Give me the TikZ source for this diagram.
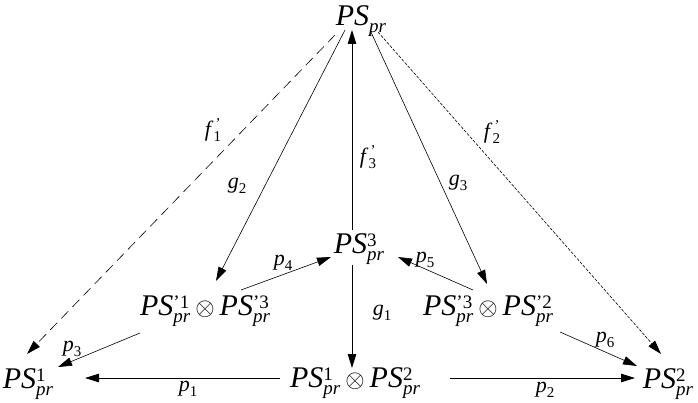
\documentclass[tikz,border=0pt]{standalone}
\usepackage{fontspec}
\setmainfont{Liberation Serif}
\usetikzlibrary{arrows.meta}
\newcommand{\PSx}[2]{\textit{PS}\makebox[0pt][l]{\raisebox{7pt}{\fontsize{19}{19}\selectfont #1}}\raisebox{-7pt}{\fontsize{19}{19}\selectfont\itshape #2}}
\newcommand{\lbx}[3]{\textit{#1}\makebox[0pt][l]{\raisebox{8pt}{\fontsize{15}{15}\selectfont\hspace{2pt}#3}}\raisebox{-5pt}{\fontsize{15}{15}\selectfont #2}}
\tikzset{
  obj/.style={inner sep=0pt, anchor=base, font=\fontsize{30}{30}\selectfont},
  lab/.style={inner sep=0pt, font=\fontsize{22}{22}\selectfont},
  arr/.style={-{Triangle[length=14pt,width=8.5pt]}, line width=0.9pt},
  thinarr/.style={-{Triangle[length=14pt,width=8.5pt]}, line width=0.6pt},
  longdash/.style={dash pattern=on 10pt off 6pt},
  finedash/.style={dash pattern=on 3pt off 1.5pt}
}
\begin{document}
\begin{tikzpicture}[x=1pt,y=-1pt]
\useasboundingbox (0,0) rectangle (698,403);
\node[obj] (top) at (361,26) {\PSx{}{pr}};
\node[obj] (m3) at (359,254) {\PSx{3}{pr}};
\node[obj] (a13) at (205,315) {\PSx{'1}{pr}\,$\otimes$\,\PSx{'3}{pr}};
\node[obj] (a32) at (488,315) {\PSx{'3}{pr}\,$\otimes$\,\PSx{'2}{pr}};
\node[obj] (l1) at (28,388) {\PSx{1}{pr}};
\node[obj] (c12) at (355,387) {\PSx{1}{pr}\,$\otimes$\,\PSx{2}{pr}};
\node[obj] (r2) at (668,388) {\PSx{2}{pr}};
% connectors
\draw[thinarr,longdash] ([shift={(-26,9)}]top.base) -- ([shift={(-1,-34)}]l1.base);
\draw[thinarr] ([shift={(-16,4)}]top.base) -- ([shift={(11,-34)}]a13.base);
\draw[arr] ([shift={(-7,-24)}]m3.base) -- ([shift={(-9,4)}]top.base);
\draw[thinarr] ([shift={(9,4)}]top.base) -- ([shift={(-1,-31)}]a32.base);
\draw[thinarr,finedash] ([shift={(17,6)}]top.base) -- ([shift={(-7,-34)}]r2.base);
\draw[arr] ([shift={(-7,11)}]m3.base) -- ([shift={(-3,-19)}]c12.base);
\draw[thinarr] ([shift={(36,-25)}]a13.base) -- ([shift={(-28,3)}]m3.base);
\draw[thinarr] ([shift={(-15,-25)}]a32.base) -- ([shift={(39,3)}]m3.base);
\draw[thinarr] ([shift={(-65,18)}]a13.base) -- ([shift={(30,-21)}]l1.base);
\draw[arr] ([shift={(-75,-9)}]c12.base) -- ([shift={(57,-10)}]l1.base);
\draw[arr] ([shift={(95,-9)}]c12.base) -- ([shift={(-33,-10)}]r2.base);
\draw[thinarr] ([shift={(72,17)}]a32.base) -- ([shift={(-31,-22)}]r2.base);
% labels
\node[lab] (lf1) at (213,130) {\lbx{f}{1}{'}};
\node[lab] (lg2) at (237,186) {\lbx{g}{2}{}};
\node[lab] (lf3) at (368,157) {\lbx{f}{3}{'}};
\node[lab] (lg3) at (458,183) {\lbx{g}{3}{}};
\node[lab] (lf2) at (492,132) {\lbx{f}{2}{'}};
\node[lab] (lg1) at (382,313) {\lbx{g}{1}{}};
\node[lab] (lp4) at (283,263) {\lbx{p}{4}{}};
\node[lab] (lp5) at (425,260) {\lbx{p}{5}{}};
\node[lab] (lp3) at (72,349) {\lbx{p}{3}{}};
\node[lab] (lp1) at (188,389) {\lbx{p}{1}{}};
\node[lab] (lp2) at (545,390) {\lbx{p}{2}{}};
\node[lab] (lp6) at (605,340) {\lbx{p}{6}{}};
\end{tikzpicture}
\end{document}
